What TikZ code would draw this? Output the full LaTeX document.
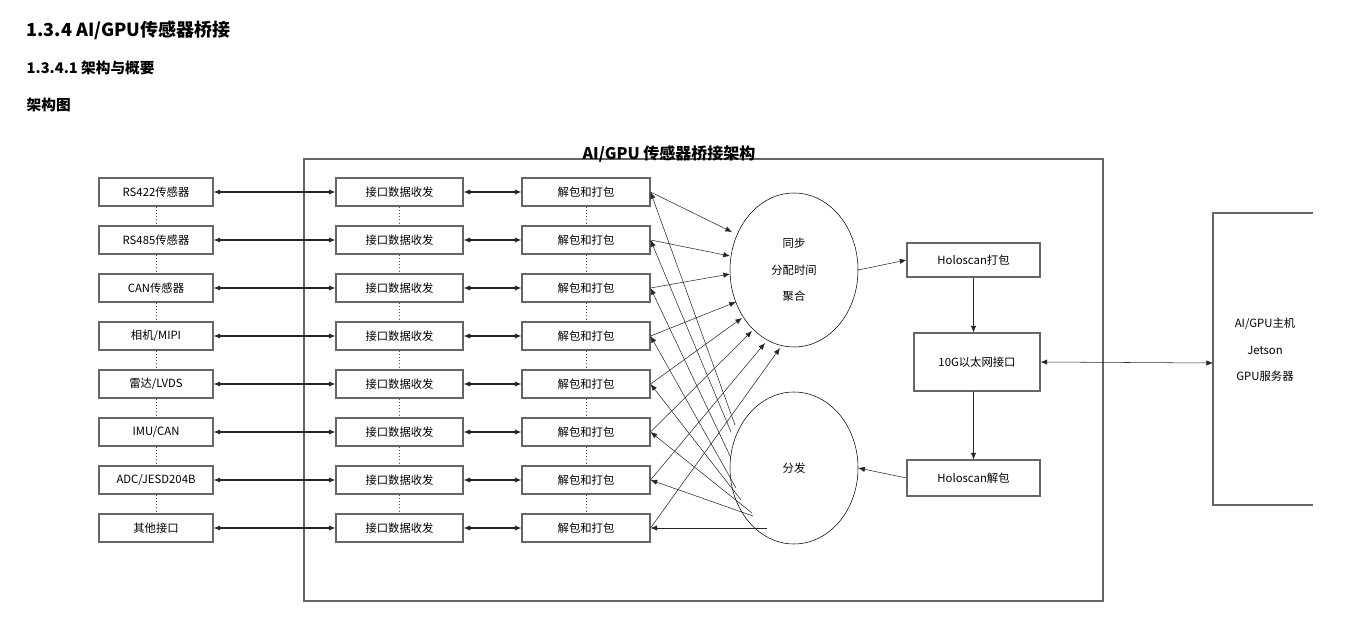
\documentclass[tikz,border=0pt]{standalone}
\usepackage{fontspec}
\setmainfont{Noto Sans CJK SC}
\usepackage{xcolor}
\usepackage{tikz}
\usetikzlibrary{arrows.meta, positioning, shapes.geometric}

\tikzset{
    box/.style={rectangle, draw=black!60, thick, minimum height=28*0.75pt, font=\fontsize{8.5}{10}\selectfont, inner sep=0pt},
    arr/.style={-{Latex[length=5pt,width=4pt]}, black!85},
    biarr/.style={{Latex[length=5pt,width=4pt]}-{Latex[length=5pt,width=4pt]}, black!85, thick},
    dots/.style={dotted, black!70}
}

\begin{document}
\begin{tikzpicture}[x=0.75pt, y=-0.75pt]
    \useasboundingbox (0,0) rectangle (1345,641);

    % headings
    \node[anchor=west, font=\fontsize{13.5}{15}\selectfont\bfseries] (h1) at (22,30) {1.3.4 AI/GPU传感器桥接};
    \node[anchor=west, font=\fontsize{11}{13}\selectfont\bfseries] (h2) at (22,68) {1.3.4.1 架构与概要};
    \node[anchor=west, font=\fontsize{11}{13}\selectfont\bfseries] (h3) at (22,105) {架构图};

    % frame
    \draw[black!60, thick] (304,159) rectangle (1103,601);
    \node[font=\fontsize{12}{14}\selectfont\bfseries] (title) at (669,154) {AI/GPU 传感器桥接架构};

    % rows
    \foreach \i/\name in {1/RS422传感器, 2/RS485传感器, 3/CAN传感器, 4/{相机/MIPI}, 5/{雷达/LVDS}, 6/{IMU/CAN}, 7/{ADC/JESD204B}, 8/其他接口} {
        \pgfmathsetmacro{\yy}{144+48*\i}
        \node[box, minimum width=114*0.75pt] (sen\i) at (156,\yy) {\name};
        \node[box, minimum width=127*0.75pt] (if\i) at (399.5,\yy) {接口数据收发};
        \node[box, minimum width=128*0.75pt] (pk\i) at (586,\yy) {解包和打包};
        \draw[biarr] (sen\i) -- (if\i);
        \draw[biarr] (if\i) -- (pk\i);
    }
    \foreach \i [evaluate=\i as \j using int(\i+1)] in {1,...,7} {
        \draw[dots] (sen\i) -- (sen\j);
        \draw[dots] (if\i) -- (if\j);
        \draw[dots] (pk\i) -- (pk\j);
    }

    % ellipses
    \node[ellipse, draw, minimum width=128*0.75pt, minimum height=154*0.75pt, font=\fontsize{8.5}{20}\selectfont, align=center] (sync) at (794,270) {同步\\分配时间\\聚合};
    \node[ellipse, draw, minimum width=128*0.75pt, minimum height=152*0.75pt, font=\fontsize{8.5}{10}\selectfont] (dist) at (794,468) {分发};

    % packing to sync
    \foreach \i/\tx/\ty in {1/732/232, 2/730/256, 3/730/274, 4/736/302, 5/742/318, 6/752/331, 7/765/343, 8/780/348} {
        \coordinate (in\i) at (\tx,\ty);
        \draw[arr] (pk\i.east) -- (in\i);
    }
    % dist to packing
    \foreach \i/\tx/\ty in {1/735/425, 2/731/432, 3/731/458, 4/736/488, 5/741/500, 6/752/513, 7/753/516, 8/767/528} {
        \coordinate (out\i) at (\tx,\ty);
        \draw[arr] (out\i) -- (pk\i.east);
    }

    % right side
    \node[box, minimum width=133*0.75pt, minimum height=34*0.75pt] (hpack) at (973.5,260) {Holoscan打包};
    \node[box, minimum width=126*0.75pt, minimum height=58*0.75pt] (eth) at (977,362) {10G以太网接口};
    \node[box, minimum width=133*0.75pt, minimum height=36*0.75pt] (hunpack) at (973.5,478) {Holoscan解包};
    \draw[black!60, thick] (1313,213) -- (1213,213) -- (1213,505) -- (1313,505);
    \node[font=\fontsize{8.5}{20}\selectfont, align=center] (host) at (1265,350) {AI/GPU主机\\Jetson\\GPU服务器};
    \coordinate (hostin) at (1213,363);

    \draw[arr] (sync.east) -- (hpack.west);
    \draw[arr] (hpack.south) -- (hpack.south |- eth.north);
    \draw[arr] (hpack.south |- eth.south) -- (hpack.south |- hunpack.north);
    \draw[arr] (hunpack.west) -- (dist.east);
    \draw[biarr, thin] (eth.east) -- (hostin);
\end{tikzpicture}
\end{document}
